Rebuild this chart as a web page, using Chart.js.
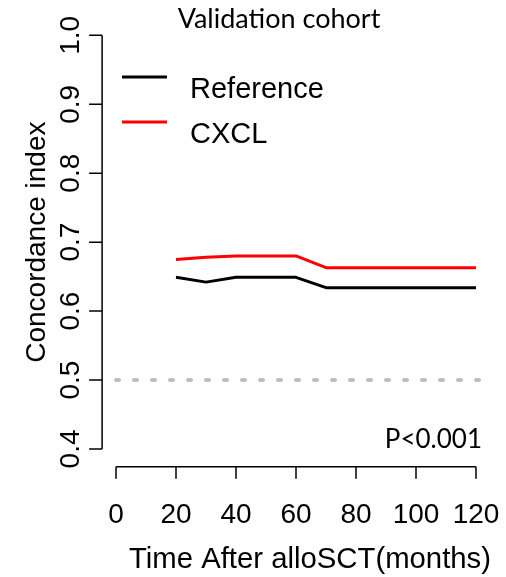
<!DOCTYPE html>
<html>
<head>
<meta charset="utf-8">
<title>Validation cohort</title>
<script src="https://cdn.jsdelivr.net/npm/chart.js@4/dist/chart.umd.min.js"></script>
<style>
	html, body { margin: 0; padding: 0; background: #ffffff; }
	#wrap { width: 506px; height: 577px; }
</style>
</head>
<body>
<div id="wrap"><canvas id="cindex" width="506" height="577"></canvas></div>
<script>
'use strict';

var months = [ 20, 30, 40, 50, 60, 70, 80, 90, 100, 110, 120 ];
var reference_cindex = [ 0.649, 0.642, 0.649, 0.649, 0.649, 0.634, 0.634, 0.634, 0.634, 0.634, 0.634 ];
var cxcl_cindex = [ 0.675, 0.678, 0.680, 0.680, 0.680, 0.663, 0.663, 0.663, 0.663, 0.663, 0.663 ];
var chance_months = [ 0, 124 ];
var chance_cindex = [ 0.5, 0.5 ];
var x_ticks = [ 0, 20, 40, 60, 80, 100, 120 ];
var y_ticks = [ 0.4, 0.5, 0.6, 0.7, 0.8, 0.9, 1.0 ];
var series_names = [ 'Reference', 'CXCL' ];

function points( xs, ys ) {
	return xs.map( function( x, i ) {
		return { x: x, y: ys[ i ] };
	} );
}

var r_font = '"Liberation Sans", Arial, sans-serif';
var note_font = 'Lato, "Open Sans", sans-serif';

// base R style axes, legend and notes, placed from the chart scales
var r_axes = {
	id: 'r_axes',
	afterDraw: function( chart ) {
		var ctx = chart.ctx;
		var xs = chart.scales.x;
		var ys = chart.scales.y;
		var area = chart.chartArea;
		ctx.save();
		ctx.strokeStyle = '#000000';
		ctx.fillStyle = '#000000';
		ctx.lineWidth = 1.5;
		ctx.lineCap = 'butt';

		// y axis
		var ax = area.left + 0.5;
		ctx.beginPath();
		ctx.moveTo( ax, ys.getPixelForValue( y_ticks[ 0 ] ) );
		ctx.lineTo( ax, ys.getPixelForValue( y_ticks[ y_ticks.length - 1 ] ) );
		y_ticks.forEach( function( t ) {
			var py = ys.getPixelForValue( t );
			ctx.moveTo( ax, py );
			ctx.lineTo( ax - 13, py );
		} );
		ctx.stroke();
		ctx.font = '28px ' + r_font;
		ctx.textAlign = 'center';
		ctx.textBaseline = 'alphabetic';
		y_ticks.forEach( function( t ) {
			ctx.save();
			ctx.translate( 79, ys.getPixelForValue( t ) );
			ctx.rotate( -Math.PI / 2 );
			ctx.fillText( t.toFixed( 1 ), 0, 0 );
			ctx.restore();
		} );

		// x axis
		var ay = area.bottom + 1.2;
		ctx.beginPath();
		ctx.moveTo( xs.getPixelForValue( x_ticks[ 0 ] ), ay );
		ctx.lineTo( xs.getPixelForValue( x_ticks[ x_ticks.length - 1 ] ), ay );
		x_ticks.forEach( function( t ) {
			var px = xs.getPixelForValue( t );
			ctx.moveTo( px, ay );
			ctx.lineTo( px, ay + 12 );
		} );
		ctx.stroke();
		x_ticks.forEach( function( t ) {
			ctx.fillText( String( t ), xs.getPixelForValue( t ), 523 );
		} );

		// axis titles
		ctx.font = '29.3px ' + r_font;
		ctx.fillText( 'Time After alloSCT(months)', 310, 568 );
		ctx.save();
		ctx.font = '28px ' + r_font;
		ctx.translate( 45, ( area.top + area.bottom ) / 2 );
		ctx.rotate( -Math.PI / 2 );
		ctx.fillText( 'Concordance index', 0, 0 );
		ctx.restore();

		// legend
		ctx.lineWidth = 3;
		ctx.textAlign = 'left';
		ctx.font = '29px ' + r_font;
		var legend_y = [ 77, 122 ];
		series_names.forEach( function( name, i ) {
			ctx.strokeStyle = chart.data.datasets[ i ].borderColor;
			ctx.beginPath();
			ctx.moveTo( 122, legend_y[ i ] );
			ctx.lineTo( 167, legend_y[ i ] );
			ctx.stroke();
			ctx.fillText( name, 190, legend_y[ i ] + 21 );
		} );

		// title and p value
		ctx.font = '27px ' + note_font;
		ctx.textAlign = 'center';
		ctx.fillText( 'Validation cohort', 279, 28 );
		ctx.font = '26px ' + note_font;
		ctx.textAlign = 'right';
		ctx.fillText( 'P<0.001', 482, 448 );
		ctx.restore();
	}
};

var chart = new Chart( document.getElementById( 'cindex' ), {
	type: 'line',
	data: {
		datasets: [ {
			label: series_names[ 0 ],
			data: points( months, reference_cindex ),
			borderColor: '#000000',
			borderWidth: 3,
		}, {
			label: series_names[ 1 ],
			data: points( months, cxcl_cindex ),
			borderColor: '#ff0000',
			borderWidth: 3,
		}, {
			label: 'chance',
			data: points( chance_months, chance_cindex ),
			borderColor: '#bebebe',
			borderWidth: 4,
			borderDash: [ 3, 15 ],
			borderCapStyle: 'round',
		} ]
	},
	options: {
		responsive: false,
		animation: false,
		devicePixelRatio: 1,
		layout: {
			padding: { left: 101.6, right: 15.6, top: 18.8, bottom: 111.5 }
		},
		elements: {
			point: { radius: 0 },
			line: { tension: 0, borderJoinStyle: 'round', fill: false }
		},
		plugins: {
			legend: { display: false },
			title: { display: false },
			tooltip: { enabled: false },
		},
		scales: {
			x: { type: 'linear', min: -4.8, max: 124.8, display: false },
			y: { type: 'linear', min: 0.376, max: 1.024, display: false },
		}
	},
	plugins: [ r_axes ]
} );
</script>
</body>
</html>
